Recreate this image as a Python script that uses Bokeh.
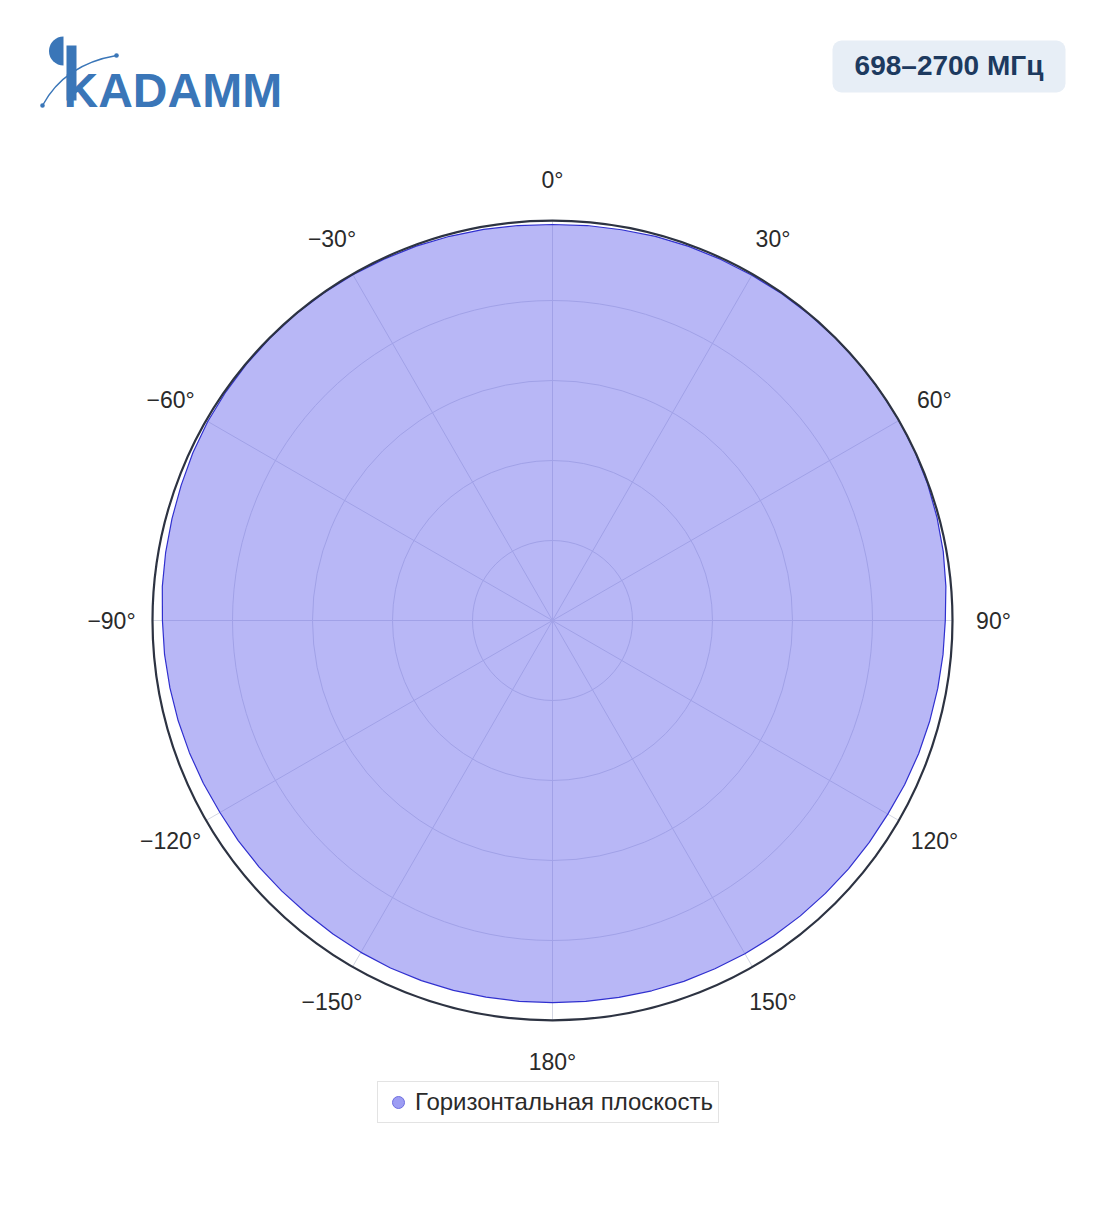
import numpy as np
from bokeh.plotting import figure
from bokeh.models import Range1d, BoxAnnotation, Legend, LegendItem
from bokeh.core.properties import value
from bokeh.embed import file_html
from bokeh.resources import INLINE

# ---------------- data ----------------
angles_deg = list(range(0, 360, 5))
gain_db = [-0.25, -0.22, -0.2, -0.15, -0.12, -0.1, -0.08, -0.05, -0.03, -0.02, 0.0, 0.0,
           0.0, -0.02, -0.05, -0.12, -0.2, -0.32, -0.45, -0.5, -0.55, -0.6, -0.65, -0.72,
           -0.8, -0.83, -0.85, -0.88, -0.9, -0.92, -0.95, -0.98, -1.0, -1.04, -1.08, -1.1,
           -1.12, -1.11, -1.1, -1.07, -1.05, -1.04, -1.05, -1.08, -1.1, -1.08, -1.05, -1.02,
           -1.0, -0.92, -0.85, -0.78, -0.72, -0.66, -0.62, -0.52, -0.45, -0.38, -0.3, -0.2,
           -0.12, -0.08, -0.05, -0.03, -0.02, -0.03, -0.05, -0.08, -0.1, -0.14, -0.18, -0.22]
series_name = "Горизонтальная плоскость"
band_label = "698–2700 МГц"
logo_text = "KADAMM"
tick_angles = [0, 30, 60, 90, 120, 150, 180, 210, 240, 270, 300, 330]
tick_labels = ["0°", "30°", "60°", "90°", "120°", "150°", "180°",
               "−150°", "−120°", "−90°", "−60°", "−30°"]
r_min_db, r_max_db = -25.0, 0.0
ring_db = [-20, -15, -10, -5]

# ---------------- geometry helpers ----------------
R_PX = 400.0
def rad(db):
    return (np.asarray(db, dtype=float) - r_min_db) / (r_max_db - r_min_db) * R_PX

def polar_xy(theta_deg, r):
    t = np.radians(np.asarray(theta_deg, dtype=float))
    return r * np.sin(t), r * np.cos(t)

W, H = 1100, 1205
CX, CY = 552, 620
p = figure(width=W, height=H, x_range=Range1d(-CX, W - CX), y_range=Range1d(CY - H, CY),
           output_backend="svg", toolbar_location=None, min_border=0,
           x_axis_type=None, y_axis_type=None)
p.grid.visible = False
p.outline_line_color = None
p.background_fill_color = "white"
p.border_fill_color = "white"

grid_color = "#d3d6e3"
# rings
p.circle(x=[0] * len(ring_db), y=[0] * len(ring_db), radius=list(rad(ring_db)),
         fill_color=None, line_color=grid_color, line_width=1)
# spokes
sx, sy = polar_xy(tick_angles, np.full(len(tick_angles), R_PX))
p.segment(x0=[0] * len(tick_angles), y0=[0] * len(tick_angles), x1=list(sx), y1=list(sy),
          line_color=grid_color, line_width=1)

# trace
th = angles_deg + [angles_deg[0]]
g = gain_db + [gain_db[0]]
tx, ty = polar_xy(th, rad(g))
p.patch(list(tx), list(ty), fill_color="#6866ec", fill_alpha=0.47, line_color=None)
p.line(list(tx), list(ty), line_color="#3030cf", line_width=1.2)

# outer ring
p.circle(x=[0], y=[0], radius=[R_PX], fill_color=None, line_color="#2d3342", line_width=2.2)

# angular labels
lx, ly = polar_xy(tick_angles, np.full(len(tick_angles), 441.0))
p.text(x=list(lx), y=list(ly), text=tick_labels, text_align="center", text_baseline="middle",
       text_font=value("Liberation Sans"), text_font_size="23px", text_color="#2a2a2a")

# ---------------- logo ----------------
logo_color = "#3a76b8"
p.wedge(x=[-489], y=[569.5], radius=14.5, start_angle=np.pi / 2, end_angle=3 * np.pi / 2,
        fill_color=logo_color, line_color=None)
p.quad(left=[-486], right=[-476], top=[575], bottom=[520], fill_color=logo_color, line_color=None)
p.text(x=[-489], y=[530], text=[logo_text], text_align="left", text_baseline="alphabetic",
       text_font=value("Liberation Sans"), text_font_style="bold", text_font_size="48px",
       text_color=logo_color)
p.quadratic(x0=[-510], y0=[515], x1=[-436], y1=[565], cx=[-488], cy=[556],
            line_color=logo_color, line_width=1.4)
p.circle(x=[-510, -436], y=[515, 565], radius=2.3, fill_color=logo_color, line_color=None)

# ---------------- badge ----------------
badge = BoxAnnotation(left=280, right=513, top=580, bottom=528, fill_color="#e7eef6",
                      fill_alpha=1.0, line_color=None, border_radius=9, level="underlay")
p.add_layout(badge)
p.text(x=[396.5], y=[555], text=[band_label], text_align="center", text_baseline="middle",
       text_font=value("Liberation Sans"), text_font_style="bold", text_font_size="28px",
       text_color="#1d3a5f")

# ---------------- legend ----------------
r_leg = p.scatter(x=[5000], y=[5000], size=12, marker="circle", fill_color="#9d9df3",
                  line_color="#6e6ee0", line_width=1)
legend = Legend(items=[LegendItem(label=series_name, renderers=[r_leg])],
                location=(377, H - 1123), padding=5, margin=0, glyph_width=30, glyph_height=30,
                label_standoff=2, label_text_font="Liberation Sans",
                label_text_font_size="24px", label_text_color="#2a2a2a",
                border_line_color="#c8c8c8", border_line_width=1,
                background_fill_color="white", background_fill_alpha=1.0)
p.add_layout(legend)

open("out.html", "w").write(file_html(p, INLINE))
